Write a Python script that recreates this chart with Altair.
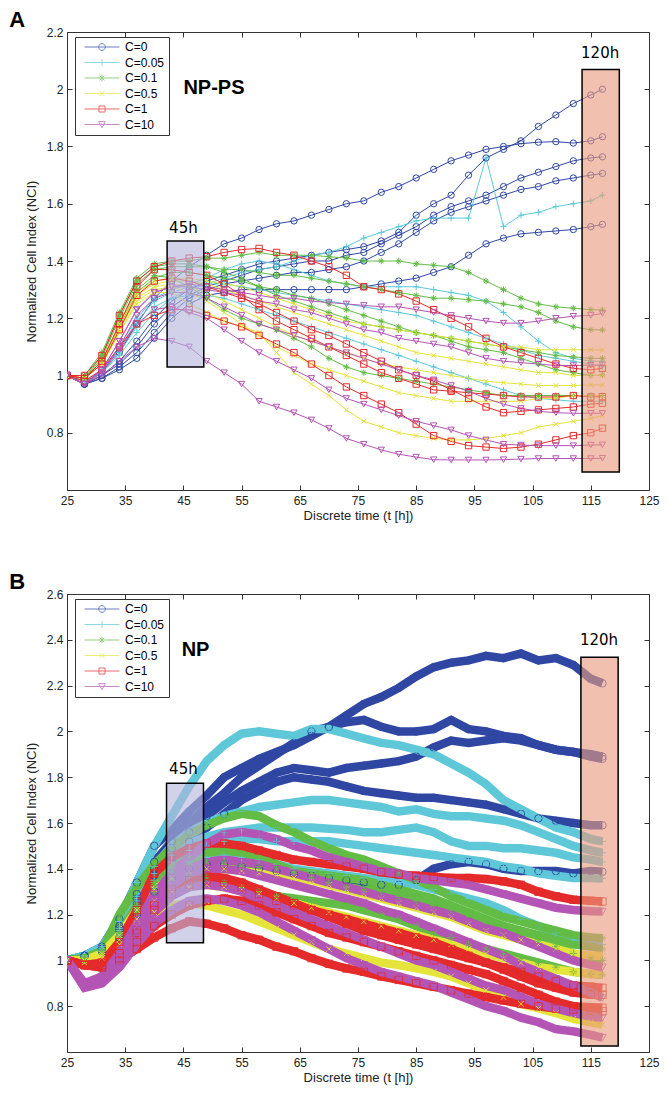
import altair as alt
import pandas as pd

# ---------------- shared values ----------------
T = [25, 28, 31, 34, 37, 40, 43, 46, 49, 52, 55, 58, 61, 64, 67, 70,
     73, 76, 79, 82, 85, 88, 91, 94, 97, 100, 103, 106, 109, 112, 115, 117]
CONC = ["C=0", "C=0.05", "C=0.1", "C=0.5", "C=1", "C=10"]
COLORS = ["#2F47A3", "#5EC8D8", "#62BC45", "#E4E43A", "#E42A2A", "#B454B4"]
SHAPES = ["circle",
          "M-1,0L1,0M0,-1L0,1",
          "M-1,0L1,0M0,-1L0,1M-0.7,-0.7L0.7,0.7M-0.7,0.7L0.7,-0.7",
          "M-0.75,-0.75L0.75,0.75M-0.75,0.75L0.75,-0.75",
          "square",
          "triangle-down"]
# legend symbols: the same markers with the series line drawn through them
LEGEND_SHAPES = ["M-5.2,0L5.2,0M1,0A1,1,0,1,1,-1,0A1,1,0,1,1,1,0",
                 "M-5.2,0L5.2,0M0,-1L0,1",
                 "M-5.2,0L5.2,0M0,-1L0,1M-0.7,-0.7L0.7,0.7M-0.7,0.7L0.7,-0.7",
                 "M-5.2,0L5.2,0M-0.75,-0.75L0.75,0.75M-0.75,0.75L0.75,-0.75",
                 "M-5.2,0L5.2,0M-0.9,-0.9L0.9,-0.9L0.9,0.9L-0.9,0.9Z",
                 "M-5.2,0L5.2,0M-1,-0.85L1,-0.85L0,0.95Z"]
X_TICKS = [25, 35, 45, 55, 65, 75, 85, 95, 105, 115, 125]

# ---------------- panel A (NP-PS) ----------------
A_C0 = [
    [1.00, 0.97, 1.00, 1.05, 1.12, 1.20, 1.26, 1.30, 1.33, 1.35, 1.37, 1.39, 1.40, 1.41, 1.42, 1.43,
     1.44, 1.45, 1.47, 1.50, 1.56, 1.60, 1.63, 1.70, 1.76, 1.79, 1.82, 1.87, 1.91, 1.95, 1.98, 2.00],
    [1.00, 0.98, 1.01, 1.08, 1.18, 1.27, 1.33, 1.38, 1.42, 1.46, 1.48, 1.51, 1.53, 1.54, 1.56, 1.58,
     1.60, 1.61, 1.64, 1.66, 1.69, 1.72, 1.75, 1.77, 1.79, 1.80, 1.81, 1.815, 1.817, 1.812, 1.82, 1.834],
    [1.00, 0.97, 1.00, 1.04, 1.10, 1.18, 1.24, 1.28, 1.31, 1.33, 1.35, 1.37, 1.38, 1.39, 1.40, 1.40,
     1.42, 1.43, 1.46, 1.49, 1.52, 1.56, 1.59, 1.61, 1.63, 1.66, 1.69, 1.71, 1.73, 1.75, 1.76, 1.764],
    [1.00, 0.97, 0.99, 1.03, 1.08, 1.15, 1.22, 1.27, 1.30, 1.32, 1.33, 1.34, 1.35, 1.36, 1.36, 1.37,
     1.38, 1.40, 1.43, 1.46, 1.50, 1.54, 1.57, 1.59, 1.61, 1.63, 1.65, 1.66, 1.68, 1.69, 1.70, 1.706],
    [1.00, 0.97, 0.99, 1.02, 1.06, 1.13, 1.20, 1.25, 1.28, 1.29, 1.30, 1.30, 1.30, 1.30, 1.30, 1.30,
     1.30, 1.31, 1.32, 1.33, 1.34, 1.36, 1.38, 1.42, 1.46, 1.48, 1.495, 1.50, 1.505, 1.51, 1.52, 1.528],
]
A_C005 = [
    [1.00, 0.98, 1.01, 1.07, 1.15, 1.22, 1.27, 1.30, 1.32, 1.34, 1.36, 1.37, 1.38, 1.40, 1.42, 1.43,
     1.45, 1.48, 1.50, 1.52, 1.54, 1.55, 1.55, 1.55, 1.76, 1.52, 1.56, 1.57, 1.59, 1.60, 1.61, 1.63],
    [1.00, 0.98, 1.02, 1.10, 1.20, 1.27, 1.30, 1.32, 1.34, 1.37, 1.39, 1.40, 1.39, 1.37, 1.35, 1.33,
     1.32, 1.31, 1.31, 1.31, 1.31, 1.30, 1.29, 1.28, 1.26, 1.22, 1.17, 1.12, 1.08, 1.06, 1.05, 1.05],
    [1.00, 0.98, 1.01, 1.08, 1.17, 1.24, 1.27, 1.28, 1.28, 1.27, 1.25, 1.23, 1.21, 1.19, 1.17, 1.15,
     1.13, 1.11, 1.09, 1.07, 1.05, 1.03, 1.01, 0.99, 0.97, 0.95, 0.93, 0.92, 0.915, 0.91, 0.91, 0.91],
    [1.00, 0.98, 1.02, 1.09, 1.19, 1.26, 1.29, 1.31, 1.32, 1.32, 1.31, 1.30, 1.29, 1.28, 1.27, 1.26,
     1.25, 1.24, 1.23, 1.22, 1.21, 1.19, 1.17, 1.15, 1.13, 1.11, 1.09, 1.07, 1.06, 1.05, 1.04, 1.03],
]
A_C01 = [
    [1.00, 1.00, 1.08, 1.22, 1.34, 1.39, 1.40, 1.40, 1.41, 1.41, 1.42, 1.43, 1.42, 1.42, 1.42, 1.415,
     1.41, 1.40, 1.40, 1.40, 1.39, 1.385, 1.38, 1.36, 1.33, 1.30, 1.27, 1.25, 1.24, 1.235, 1.23, 1.229],
    [1.00, 0.99, 1.06, 1.20, 1.32, 1.37, 1.38, 1.38, 1.38, 1.37, 1.37, 1.36, 1.35, 1.35, 1.34, 1.33,
     1.32, 1.31, 1.30, 1.29, 1.28, 1.27, 1.27, 1.265, 1.26, 1.25, 1.24, 1.22, 1.19, 1.17, 1.16, 1.159],
    [1.00, 0.99, 1.05, 1.17, 1.29, 1.34, 1.36, 1.36, 1.35, 1.34, 1.33, 1.31, 1.30, 1.28, 1.27, 1.25,
     1.23, 1.21, 1.19, 1.17, 1.15, 1.14, 1.12, 1.10, 1.09, 1.08, 1.06, 1.04, 1.02, 1.01, 1.00, 1.002],
    [1.00, 0.99, 1.05, 1.18, 1.30, 1.35, 1.34, 1.31, 1.27, 1.23, 1.20, 1.18, 1.16, 1.13, 1.10, 1.06,
     1.03, 1.01, 1.00, 0.99, 0.98, 0.97, 0.96, 0.95, 0.94, 0.93, 0.93, 0.93, 0.93, 0.93, 0.93, 0.93],
    [1.00, 0.99, 1.07, 1.21, 1.33, 1.38, 1.39, 1.39, 1.38, 1.36, 1.34, 1.31, 1.28, 1.26, 1.24, 1.22,
     1.20, 1.18, 1.17, 1.16, 1.15, 1.14, 1.13, 1.12, 1.11, 1.10, 1.09, 1.08, 1.07, 1.065, 1.06, 1.06],
]
A_C05 = [
    [1.00, 0.99, 1.05, 1.18, 1.29, 1.33, 1.34, 1.34, 1.33, 1.32, 1.31, 1.29, 1.27, 1.25, 1.23, 1.21,
     1.19, 1.18, 1.17, 1.16, 1.15, 1.14, 1.13, 1.12, 1.11, 1.10, 1.10, 1.09, 1.09, 1.09, 1.09, 1.089],
    [1.00, 0.99, 1.04, 1.16, 1.27, 1.31, 1.32, 1.31, 1.29, 1.26, 1.23, 1.20, 1.17, 1.14, 1.12, 1.10,
     1.08, 1.06, 1.04, 1.03, 1.02, 1.01, 1.00, 0.99, 0.98, 0.975, 0.97, 0.965, 0.965, 0.965, 0.967, 0.967],
    [1.00, 0.99, 1.04, 1.15, 1.26, 1.30, 1.31, 1.29, 1.26, 1.22, 1.18, 1.14, 1.10, 1.07, 1.04, 1.02,
     1.00, 0.98, 0.96, 0.94, 0.93, 0.92, 0.91, 0.91, 0.91, 0.91, 0.91, 0.92, 0.92, 0.93, 0.93, 0.93],
    [1.00, 0.99, 1.04, 1.15, 1.25, 1.29, 1.29, 1.25, 1.22, 1.19, 1.17, 1.15, 1.08, 1.01, 0.97, 0.93,
     0.88, 0.84, 0.82, 0.80, 0.79, 0.78, 0.775, 0.775, 0.78, 0.79, 0.80, 0.82, 0.83, 0.84, 0.85, 0.86],
    [1.00, 0.99, 1.05, 1.17, 1.28, 1.32, 1.33, 1.33, 1.32, 1.30, 1.28, 1.26, 1.24, 1.22, 1.20, 1.18,
     1.16, 1.14, 1.12, 1.10, 1.08, 1.07, 1.06, 1.05, 1.04, 1.03, 1.02, 1.01, 1.01, 1.00, 1.00, 1.00],
]
A_C1 = [
    [1.00, 1.00, 1.07, 1.21, 1.33, 1.38, 1.40, 1.41, 1.415, 1.43, 1.44, 1.444, 1.43, 1.42, 1.40, 1.38,
     1.35, 1.31, 1.30, 1.285, 1.26, 1.23, 1.20, 1.17, 1.13, 1.10, 1.08, 1.06, 1.04, 1.025, 1.02, 1.025],
    [1.00, 0.99, 1.05, 1.18, 1.31, 1.37, 1.37, 1.36, 1.35, 1.32, 1.28, 1.23, 1.19, 1.16, 1.13, 1.10,
     1.07, 1.04, 1.01, 0.99, 0.97, 0.95, 0.945, 0.94, 0.935, 0.93, 0.925, 0.925, 0.925, 0.93, 0.925, 0.926],
    [1.00, 0.99, 1.04, 1.16, 1.28, 1.33, 1.34, 1.33, 1.31, 1.29, 1.27, 1.25, 1.22, 1.19, 1.16, 1.14,
     1.11, 1.08, 1.05, 1.02, 1.00, 0.98, 0.95, 0.92, 0.89, 0.87, 0.875, 0.88, 0.885, 0.89, 0.90, 0.903],
    [1.00, 0.98, 1.02, 1.10, 1.18, 1.21, 1.23, 1.23, 1.21, 1.19, 1.17, 1.14, 1.11, 1.08, 1.04, 1.00,
     0.96, 0.93, 0.90, 0.87, 0.83, 0.79, 0.77, 0.755, 0.75, 0.745, 0.75, 0.76, 0.775, 0.79, 0.80, 0.816],
]
A_C10 = [
    [1.00, 0.97, 1.00, 1.05, 1.10, 1.13, 1.12, 1.10, 1.05, 1.01, 0.97, 0.91, 0.89, 0.87, 0.845, 0.815,
     0.78, 0.76, 0.74, 0.725, 0.715, 0.706, 0.705, 0.705, 0.705, 0.706, 0.708, 0.71, 0.71, 0.71, 0.71, 0.711],
    [1.00, 0.97, 1.01, 1.09, 1.18, 1.23, 1.24, 1.22, 1.20, 1.16, 1.12, 1.08, 1.05, 1.02, 0.99, 0.95,
     0.92, 0.90, 0.88, 0.86, 0.84, 0.825, 0.81, 0.79, 0.775, 0.76, 0.757, 0.755, 0.755, 0.755, 0.757, 0.758],
    [1.00, 0.97, 1.02, 1.12, 1.23, 1.29, 1.31, 1.32, 1.31, 1.30, 1.29, 1.28, 1.27, 1.27, 1.26, 1.255,
     1.25, 1.245, 1.24, 1.24, 1.23, 1.22, 1.21, 1.20, 1.19, 1.183, 1.183, 1.19, 1.20, 1.207, 1.21, 1.217],
    [1.00, 0.97, 1.02, 1.12, 1.23, 1.29, 1.31, 1.31, 1.30, 1.29, 1.28, 1.26, 1.25, 1.23, 1.22, 1.20,
     1.18, 1.16, 1.15, 1.13, 1.12, 1.11, 1.10, 1.08, 1.06, 1.05, 1.045, 1.04, 1.035, 1.035, 1.036, 1.037],
    [1.00, 0.97, 1.01, 1.10, 1.21, 1.27, 1.29, 1.29, 1.27, 1.24, 1.21, 1.18, 1.16, 1.14, 1.12, 1.10,
     1.08, 1.06, 1.04, 1.02, 1.00, 0.985, 0.965, 0.945, 0.92, 0.90, 0.885, 0.875, 0.87, 0.868, 0.868, 0.868],
]
A_Y_TICKS = [0.8, 1, 1.2, 1.4, 1.6, 1.8, 2, 2.2]
A_BOX_X1 = [42.2, 113.5]
A_BOX_X2 = [48.5, 119.9]
A_BOX_Y1 = [1.03, 0.663]
A_BOX_Y2 = [1.47, 2.069]
A_LAB = ["45h", "120h"]
A_LAB_X = [45.0, 116.6]
A_LAB_Y = [1.516, 2.125]

# ---------------- panel B (NP) ----------------
B_C0 = [
    [1.00, 1.02, 1.06, 1.18, 1.34, 1.50, 1.57, 1.65, 1.72, 1.80, 1.84, 1.88, 1.91, 1.94, 1.98, 2.02,
     2.07, 2.12, 2.15, 2.19, 2.24, 2.28, 2.30, 2.31, 2.33, 2.32, 2.34, 2.31, 2.32, 2.29, 2.23, 2.21],
    [1.00, 1.02, 1.05, 1.15, 1.29, 1.43, 1.52, 1.60, 1.67, 1.73, 1.80, 1.85, 1.90, 1.95, 2.00, 2.02,
     2.04, 2.05, 2.02, 2.00, 2.00, 2.01, 2.05, 2.01, 2.00, 1.98, 1.97, 1.94, 1.92, 1.91, 1.89, 1.88],
    [1.00, 1.02, 1.05, 1.14, 1.27, 1.40, 1.49, 1.56, 1.63, 1.69, 1.74, 1.78, 1.82, 1.84, 1.83, 1.82,
     1.84, 1.85, 1.86, 1.87, 1.89, 1.93, 1.96, 1.95, 1.96, 1.97, 1.96, 1.94, 1.92, 1.91, 1.90, 1.89],
    [1.00, 1.02, 1.05, 1.13, 1.25, 1.37, 1.45, 1.52, 1.58, 1.64, 1.70, 1.74, 1.78, 1.80, 1.79, 1.78,
     1.76, 1.74, 1.73, 1.72, 1.71, 1.71, 1.70, 1.69, 1.68, 1.66, 1.64, 1.62, 1.61, 1.60, 1.59, 1.59],
    [1.00, 1.02, 1.04, 1.10, 1.20, 1.30, 1.36, 1.40, 1.42, 1.42, 1.41, 1.40, 1.39, 1.38, 1.37, 1.36,
     1.35, 1.34, 1.33, 1.33, 1.35, 1.40, 1.42, 1.43, 1.42, 1.40, 1.39, 1.39, 1.39, 1.38, 1.39, 1.387],
]
B_C005 = [
    [1.00, 1.02, 1.06, 1.17, 1.34, 1.50, 1.63, 1.76, 1.87, 1.94, 1.99, 2.00, 1.99, 1.98, 2.01, 2.01,
     1.99, 1.97, 1.95, 1.94, 1.92, 1.90, 1.86, 1.82, 1.77, 1.70, 1.66, 1.62, 1.58, 1.56, 1.53, 1.52],
    [1.00, 1.02, 1.05, 1.14, 1.28, 1.41, 1.50, 1.56, 1.60, 1.63, 1.65, 1.67, 1.68, 1.69, 1.70, 1.70,
     1.69, 1.68, 1.67, 1.65, 1.66, 1.64, 1.63, 1.63, 1.62, 1.61, 1.59, 1.56, 1.53, 1.50, 1.48, 1.47],
    [1.00, 1.02, 1.05, 1.13, 1.26, 1.38, 1.46, 1.51, 1.54, 1.56, 1.57, 1.58, 1.58, 1.58, 1.58, 1.575,
     1.57, 1.56, 1.56, 1.57, 1.58, 1.56, 1.52, 1.50, 1.50, 1.49, 1.49, 1.48, 1.47, 1.45, 1.44, 1.43],
    [1.00, 1.02, 1.04, 1.12, 1.24, 1.35, 1.43, 1.48, 1.50, 1.52, 1.53, 1.53, 1.52, 1.52, 1.52, 1.52,
     1.51, 1.50, 1.49, 1.48, 1.47, 1.46, 1.45, 1.44, 1.43, 1.41, 1.40, 1.38, 1.37, 1.36, 1.36, 1.358],
    [1.00, 1.02, 1.04, 1.11, 1.22, 1.32, 1.39, 1.43, 1.45, 1.46, 1.45, 1.44, 1.42, 1.40, 1.39, 1.38,
     1.37, 1.36, 1.35, 1.34, 1.33, 1.31, 1.29, 1.27, 1.25, 1.22, 1.18, 1.15, 1.12, 1.09, 1.08, 1.07],
]
B_C01 = [
    [1.00, 1.01, 1.04, 1.20, 1.32, 1.42, 1.49, 1.55, 1.59, 1.62, 1.64, 1.63, 1.59, 1.56, 1.52, 1.49,
     1.46, 1.44, 1.41, 1.38, 1.35, 1.32, 1.28, 1.25, 1.22, 1.19, 1.17, 1.15, 1.13, 1.11, 1.10, 1.097],
    [1.00, 1.01, 1.04, 1.12, 1.24, 1.34, 1.41, 1.45, 1.47, 1.48, 1.47, 1.45, 1.42, 1.39, 1.38, 1.37,
     1.36, 1.35, 1.33, 1.31, 1.29, 1.27, 1.24, 1.21, 1.18, 1.15, 1.12, 1.09, 1.06, 1.03, 1.01, 1.00],
    [1.00, 1.00, 1.03, 1.10, 1.21, 1.30, 1.35, 1.37, 1.36, 1.34, 1.32, 1.30, 1.28, 1.27, 1.26, 1.25,
     1.24, 1.22, 1.20, 1.18, 1.15, 1.12, 1.10, 1.07, 1.05, 1.03, 1.01, 0.99, 0.97, 0.95, 0.94, 0.937],
    [1.00, 1.01, 1.04, 1.12, 1.23, 1.33, 1.39, 1.42, 1.43, 1.43, 1.42, 1.41, 1.40, 1.38, 1.36, 1.34,
     1.32, 1.31, 1.30, 1.28, 1.26, 1.24, 1.22, 1.20, 1.17, 1.15, 1.13, 1.11, 1.09, 1.07, 1.06, 1.05],
]
B_C05 = [
    [1.00, 1.00, 1.02, 1.09, 1.18, 1.26, 1.30, 1.32, 1.33, 1.32, 1.31, 1.29, 1.27, 1.25, 1.23, 1.21,
     1.19, 1.17, 1.15, 1.13, 1.11, 1.09, 1.07, 1.05, 1.03, 1.01, 0.99, 0.97, 0.96, 0.95, 0.94, 0.94],
    [1.00, 0.99, 1.01, 1.07, 1.15, 1.21, 1.24, 1.25, 1.24, 1.22, 1.20, 1.17, 1.14, 1.11, 1.08, 1.05,
     1.03, 1.01, 0.99, 0.98, 0.965, 0.95, 0.93, 0.90, 0.87, 0.84, 0.81, 0.79, 0.77, 0.745, 0.73, 0.72],
    [1.00, 1.00, 1.03, 1.11, 1.22, 1.31, 1.36, 1.39, 1.40, 1.40, 1.39, 1.38, 1.37, 1.36, 1.35, 1.33,
     1.31, 1.29, 1.27, 1.25, 1.23, 1.21, 1.19, 1.16, 1.13, 1.11, 1.09, 1.07, 1.05, 1.03, 1.02, 1.02],
]
B_C1 = [
    [1.00, 0.98, 0.99, 1.08, 1.22, 1.38, 1.45, 1.49, 1.51, 1.51, 1.50, 1.48, 1.46, 1.44, 1.43, 1.42,
     1.41, 1.40, 1.385, 1.375, 1.37, 1.365, 1.36, 1.36, 1.355, 1.345, 1.33, 1.30, 1.28, 1.265, 1.26, 1.257],
    [1.00, 0.98, 0.98, 1.03, 1.13, 1.24, 1.31, 1.35, 1.37, 1.36, 1.34, 1.31, 1.28, 1.25, 1.22, 1.19,
     1.16, 1.13, 1.11, 1.09, 1.07, 1.05, 1.03, 1.01, 0.99, 0.97, 0.95, 0.93, 0.91, 0.89, 0.885, 0.88],
    [1.00, 0.98, 0.97, 1.01, 1.08, 1.15, 1.20, 1.24, 1.26, 1.27, 1.26, 1.24, 1.21, 1.18, 1.15, 1.12,
     1.10, 1.08, 1.06, 1.04, 1.02, 1.00, 0.98, 0.96, 0.94, 0.91, 0.88, 0.85, 0.82, 0.80, 0.795, 0.793],
    [1.00, 0.98, 0.97, 1.00, 1.05, 1.10, 1.14, 1.17, 1.16, 1.14, 1.11, 1.09, 1.06, 1.04, 1.01, 0.985,
     0.965, 0.95, 0.93, 0.915, 0.90, 0.885, 0.87, 0.855, 0.84, 0.825, 0.81, 0.80, 0.79, 0.785, 0.78, 0.778],
    [1.00, 0.98, 0.98, 1.03, 1.12, 1.22, 1.29, 1.33, 1.35, 1.34, 1.32, 1.29, 1.26, 1.24, 1.22, 1.20,
     1.18, 1.16, 1.14, 1.12, 1.10, 1.08, 1.05, 1.02, 0.99, 0.96, 0.93, 0.90, 0.88, 0.86, 0.85, 0.85],
]
B_C10 = [
    [1.00, 0.90, 0.93, 1.03, 1.16, 1.29, 1.38, 1.45, 1.51, 1.55, 1.56, 1.55, 1.53, 1.50, 1.48, 1.45,
     1.43, 1.41, 1.39, 1.38, 1.36, 1.35, 1.34, 1.33, 1.31, 1.29, 1.27, 1.25, 1.23, 1.22, 1.215, 1.213],
    [1.00, 0.89, 0.92, 1.01, 1.13, 1.25, 1.33, 1.38, 1.40, 1.40, 1.39, 1.37, 1.35, 1.33, 1.31, 1.29,
     1.27, 1.25, 1.22, 1.20, 1.17, 1.14, 1.11, 1.08, 1.05, 1.02, 0.98, 0.95, 0.92, 0.89, 0.86, 0.836],
    [1.00, 0.89, 0.91, 0.99, 1.10, 1.21, 1.28, 1.32, 1.33, 1.32, 1.30, 1.27, 1.24, 1.21, 1.18, 1.15,
     1.12, 1.09, 1.06, 1.03, 1.00, 0.98, 0.95, 0.92, 0.89, 0.87, 0.84, 0.81, 0.79, 0.77, 0.755, 0.749],
    [1.00, 0.88, 0.90, 0.97, 1.07, 1.16, 1.22, 1.26, 1.27, 1.26, 1.24, 1.21, 1.17, 1.13, 1.09, 1.05,
     1.01, 0.98, 0.95, 0.93, 0.91, 0.89, 0.86, 0.83, 0.80, 0.78, 0.75, 0.73, 0.70, 0.69, 0.675, 0.663],
    [1.00, 0.90, 0.92, 1.01, 1.14, 1.26, 1.35, 1.40, 1.43, 1.44, 1.43, 1.42, 1.40, 1.38, 1.36, 1.34,
     1.32, 1.30, 1.28, 1.26, 1.24, 1.22, 1.20, 1.17, 1.14, 1.12, 1.09, 1.06, 1.03, 1.00, 0.98, 0.97],
]
B_Y_TICKS = [0.8, 1, 1.2, 1.4, 1.6, 1.8, 2, 2.2, 2.4, 2.6]
B_BOX_X1 = [42.1, 113.3]
B_BOX_X2 = [48.45, 119.7]
B_BOX_Y1 = [1.077, 0.626]
B_BOX_Y2 = [1.774, 2.324]
B_LAB = ["45h", "120h"]
B_LAB_X = [45.0, 116.4]
B_LAB_Y = [1.836, 2.398]

BOX_FILL = ["#b4b4dc", "#e89a7c"]
FONT = "Liberation Sans"


def long_table(groups):
    rows = []
    for conc, curves in zip(CONC, groups):
        for k, curve in enumerate(curves):
            for t, v in zip(T, curve):
                rows.append({"t": t, "v": v, "C": conc, "curve": f"{conc}#{k}"})
    return pd.DataFrame(rows)


def make_panel(groups, ydom, yticks, bx1, bx2, by1, by2, labs, labx, laby,
               name, name_x, name_y, letter, line_w, pt_size, pt_op):
    df = long_table(groups)
    xs = alt.Scale(domain=[25, 125], nice=False, zero=False)
    ys = alt.Scale(domain=ydom, nice=False, zero=False)
    cs = alt.Scale(domain=CONC, range=COLORS)
    ss = alt.Scale(domain=CONC, range=SHAPES)
    ss_leg = alt.Scale(domain=CONC, range=LEGEND_SHAPES)
    inward = alt.ExprRef(expr="-5")

    x_bottom = alt.Axis(values=X_TICKS, format="d", title="Discrete time (t [h])",
                        tickSize=inward, labelPadding=10, labelFlush=False,
                        labelOverlap=False, grid=False, domain=False,
                        labelFontSize=12, titleFontSize=13, titlePadding=3)
    y_left = alt.Axis(values=yticks, format="~g", title="Normalized Cell Index (NCI)",
                      tickSize=inward, labelPadding=9, labelFlush=False,
                      labelOverlap=False, grid=False, domain=False,
                      labelFontSize=12, titleFontSize=13, titlePadding=8)
    x_top = alt.Axis(orient="top", values=X_TICKS, labels=False, title=None,
                     tickSize=inward, grid=False, domain=False)
    y_right = alt.Axis(orient="right", values=yticks, labels=False, title=None,
                       tickSize=inward, grid=False, domain=False)

    leg = alt.Legend(title=None, orient="none", legendX=8, legendY=5, padding=4,
                     strokeColor="#333333", fillColor="white", labelFont=FONT,
                     labelFontSize=12, labelColor="black", symbolSize=45,
                     symbolStrokeWidth=1, rowPadding=3.5, symbolOffset=17,
                     labelOffset=17)

    lines = alt.Chart(df).mark_line(strokeWidth=line_w, clip=True).encode(
        x=alt.X("t:Q", scale=xs, axis=x_bottom),
        y=alt.Y("v:Q", scale=ys, axis=y_left),
        color=alt.Color("C:N", scale=cs, legend=None),
        detail="curve:N",
        order=alt.Order("t:Q"),
    )
    points = alt.Chart(df).mark_point(filled=False, size=pt_size, strokeWidth=1,
                                      opacity=pt_op, clip=True).encode(
        x=alt.X("t:Q", scale=xs, axis=None),
        y=alt.Y("v:Q", scale=ys, axis=None),
        color=alt.Color("C:N", scale=cs, legend=None),
        shape=alt.Shape("C:N", scale=ss, legend=None),
    )
    # legend-only layer: no visible marks, only supplies the legend symbols
    legend_layer = alt.Chart(df).transform_filter("false").mark_point(
        filled=False, size=45, strokeWidth=1).encode(
        x=alt.X("t:Q", scale=xs, axis=None),
        y=alt.Y("v:Q", scale=ys, axis=None),
        color=alt.Color("C:N", scale=cs, legend=leg),
        shape=alt.Shape("C:N", scale=ss_leg, legend=leg),
    )
    boxes_df = pd.DataFrame({"x1": bx1, "x2": bx2, "y1": by1, "y2": by2, "fill": BOX_FILL})
    boxes = alt.Chart(boxes_df).mark_rect(stroke="black", strokeWidth=1.5,
                                          fillOpacity=0.62).encode(
        x=alt.X("x1:Q", scale=xs, axis=x_top),
        x2="x2:Q",
        y=alt.Y("y1:Q", scale=ys, axis=y_right),
        y2="y2:Q",
        fill=alt.Fill("fill:N", scale=None),
    )
    lab_df = pd.DataFrame({"x": labx, "y": laby, "text": labs})
    labels = alt.Chart(lab_df).mark_text(font="DejaVu Sans", fontSize=15,
                                         color="black", align="center",
                                         baseline="middle").encode(
        x=alt.X("x:Q", scale=xs, axis=None),
        y=alt.Y("y:Q", scale=ys, axis=None),
        text="text:N",
    )
    name_df = pd.DataFrame({"x": [name_x], "y": [name_y], "text": [name]})
    name_mark = alt.Chart(name_df).mark_text(font=FONT, fontSize=20, fontWeight="bold",
                                             color="black", align="left",
                                             baseline="middle").encode(
        x=alt.X("x:Q", scale=xs, axis=None),
        y=alt.Y("y:Q", scale=ys, axis=None),
        text="text:N",
    )
    return alt.layer(lines, points, boxes, labels, name_mark, legend_layer).resolve_axis(
        x="independent", y="independent"
    ).resolve_scale(
        color="independent", shape="independent"
    ).properties(
        width=582, height=458,
        title=alt.TitleParams(text=letter, anchor="start", frame="bounds",
                              fontSize=22, fontWeight="bold", font=FONT,
                              color="black", dx=-16, offset=-6),
    )


panel_a = make_panel([A_C0, A_C005, A_C01, A_C05, A_C1, A_C10], [0.6, 2.2], A_Y_TICKS,
                     A_BOX_X1, A_BOX_X2, A_BOX_Y1, A_BOX_Y2, A_LAB, A_LAB_X, A_LAB_Y,
                     "NP-PS", 45.0, 2.006, "A", 1, 40, 1)
panel_b = make_panel([B_C0, B_C005, B_C01, B_C05, B_C1, B_C10], [0.6, 2.6], B_Y_TICKS,
                     B_BOX_X1, B_BOX_X2, B_BOX_Y1, B_BOX_Y2, B_LAB, B_LAB_X, B_LAB_Y,
                     "NP", 44.7, 2.354, "B", 8.5, 55, 0.9)

chart = alt.vconcat(panel_a, panel_b, spacing=47).resolve_scale(
    x="independent", y="independent", color="independent", shape="independent"
).resolve_legend(
    color="independent", shape="independent"
).configure_view(
    stroke="#333333", strokeWidth=1
).configure_axis(
    labelFont=FONT, titleFont=FONT, labelColor="#222222", titleColor="#222222",
    tickColor="#333333", titleFontWeight="normal"
).properties(padding=0)

chart.save("out.html", embed_options={"renderer": "svg", "actions": False})
